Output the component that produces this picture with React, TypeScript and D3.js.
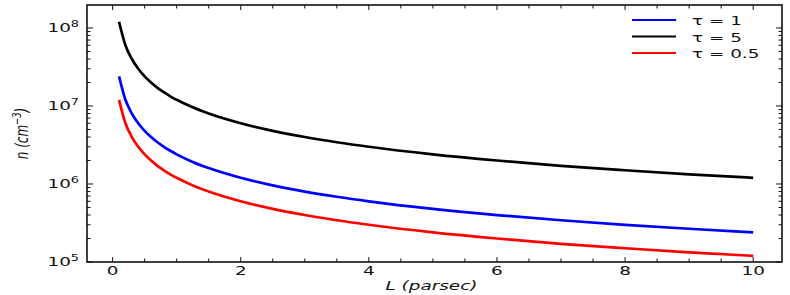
import React from "react";
import * as d3 from "d3";

const L = [0.1, 0.2, 0.3, 0.4, 0.5, 0.6, 0.7, 0.8, 0.9, 1.0, 1.25, 1.5, 2, 2.5, 3, 3.5, 4, 5, 6, 7, 8, 9, 10];
const tau1 = [2.4e7, 1.2e7, 8.0e6, 6.0e6, 4.8e6, 4.0e6, 3.43e6, 3.0e6, 2.67e6, 2.4e6, 1.92e6, 1.6e6, 1.2e6, 9.6e5, 8.0e5, 6.86e5, 6.0e5, 4.8e5, 4.0e5, 3.43e5, 3.0e5, 2.67e5, 2.4e5];
const tau5 = [1.2e8, 6.0e7, 4.0e7, 3.0e7, 2.4e7, 2.0e7, 1.71e7, 1.5e7, 1.33e7, 1.2e7, 9.6e6, 8.0e6, 6.0e6, 4.8e6, 4.0e6, 3.43e6, 3.0e6, 2.4e6, 2.0e6, 1.71e6, 1.5e6, 1.33e6, 1.2e6];
const tau05 = [1.2e7, 6.0e6, 4.0e6, 3.0e6, 2.4e6, 2.0e6, 1.71e6, 1.5e6, 1.33e6, 1.2e6, 9.6e5, 8.0e5, 6.0e5, 4.8e5, 4.0e5, 3.43e5, 3.0e5, 2.4e5, 2.0e5, 1.71e5, 1.5e5, 1.33e5, 1.2e5];
const seriesNames = ["τ = 1", "τ = 5", "τ = 0.5"];
const seriesColors = ["#0000ff", "#000000", "#ff0000"];
const xMajor = [0, 2, 4, 6, 8, 10];
const yExponents = [5, 6, 7, 8];

const W = 790, H = 295;
const left = 87, right = 782, top = 5, bottom = 262;
const SX = 1.6;
const FS = 11.5;
const FONT = "DejaVu Sans, sans-serif";

export default function App() {
  const x = d3.scaleLinear().domain([-0.4, 10.45]).range([left, right]);
  const y = d3.scaleLog().domain([1e5, 1.97e8]).range([bottom, top]);
  const line = d3
    .line<[number, number]>()
    .x((d) => x(d[0]))
    .y((d) => y(d[1]))
    .curve(d3.curveMonotoneX);
  const series = [tau1, tau5, tau05];

  const xMinor: number[] = [];
  for (let v = 0; v <= 10.001; v += 0.5) if (Math.abs(v - Math.round(v / 2) * 2) > 1e-6) xMinor.push(v);
  const yMinor: number[] = [];
  for (let e = 5; e <= 8; e++) for (let m = 2; m <= 9; m++) {
    const v = m * Math.pow(10, e);
    if (v <= 1.97e8) yMinor.push(v);
  }

  const ink = "#111";
  return (
    <svg width={W} height={H} style={{ display: "block", position: "absolute", left: 0, top: 0 }}>
      <rect width={W} height={H} fill="white" />
      <defs>
        <clipPath id="plot">
          <rect x={left} y={top} width={right - left} height={bottom - top} />
        </clipPath>
      </defs>
      <g clipPath="url(#plot)">
        {series.map((s, i) => (
          <path
            key={i}
            d={line(L.map((l, j) => [l, s[j]] as [number, number])) || ""}
            fill="none"
            stroke={seriesColors[i]}
            strokeWidth={2.7}
          />
        ))}
      </g>
      <g stroke={ink} strokeWidth={1}>
        {xMajor.map((v) => (
          <g key={"xm" + v}>
            <line x1={x(v)} x2={x(v)} y1={bottom} y2={bottom - 5} />
            <line x1={x(v)} x2={x(v)} y1={top} y2={top + 5} />
          </g>
        ))}
        {xMinor.map((v) => (
          <g key={"xn" + v}>
            <line x1={x(v)} x2={x(v)} y1={bottom} y2={bottom - 3.5} />
            <line x1={x(v)} x2={x(v)} y1={top} y2={top + 3.5} />
          </g>
        ))}
        {yExponents.map((e) => (
          <g key={"ym" + e}>
            <line x1={left} x2={left + 6} y1={y(Math.pow(10, e))} y2={y(Math.pow(10, e))} />
            <line x1={right} x2={right - 6} y1={y(Math.pow(10, e))} y2={y(Math.pow(10, e))} />
          </g>
        ))}
        {yMinor.map((v) => (
          <g key={"yn" + v}>
            <line x1={left} x2={left + 3.5} y1={y(v)} y2={y(v)} />
            <line x1={right} x2={right - 3.5} y1={y(v)} y2={y(v)} />
          </g>
        ))}
      </g>
      <rect x={left} y={top} width={right - left} height={bottom - top} fill="none" stroke={ink} strokeWidth={1.6} />
      {xMajor.map((v) => (
        <text
          key={"xl" + v}
          transform={`translate(${x(v)},${bottom + 13}) scale(${SX},1)`}
          textAnchor="middle"
          fontFamily={FONT}
          fontSize={FS}
          fill={ink}
        >
          {v}
        </text>
      ))}
      {yExponents.map((e) => (
        <text
          key={"yl" + e}
          transform={`translate(79,${y(Math.pow(10, e)) + 4}) scale(${SX},1)`}
          textAnchor="end"
          fontFamily={FONT}
          fontSize={FS}
          fill={ink}
        >
          10
          <tspan fontSize={8} dy={-5}>
            {e}
          </tspan>
        </text>
      ))}
      <text
        transform={`translate(${(left + right) / 2 - 3},290) scale(${SX},1)`}
        textAnchor="middle"
        fontFamily={FONT}
        fontSize={FS}
        fontStyle="italic"
        fill={ink}
      >
        L (parsec)
      </text>
      <text
        transform={`translate(28,${(top + bottom) / 2}) scale(1.45,1) rotate(-90)`}
        textAnchor="middle"
        fontFamily={FONT}
        fontSize={12}
        fontStyle="italic"
        fill={ink}
      >
        n (cm
        <tspan fontSize={8.5} dy={-5}>
          −3
        </tspan>
        <tspan dy={5}>)</tspan>
      </text>
      {seriesNames.map((name, i) => {
        const ly = 20 + i * 16.5;
        return (
          <g key={"lg" + i}>
            <line x1={632} x2={676} y1={ly} y2={ly} stroke={seriesColors[i]} strokeWidth={2} />
            <text
              transform={`translate(692,${ly + 5}) scale(${SX},1)`}
              fontFamily={FONT}
              fontSize={FS}
              fill={ink}
            >
              {name}
            </text>
          </g>
        );
      })}
    </svg>
  );
}
